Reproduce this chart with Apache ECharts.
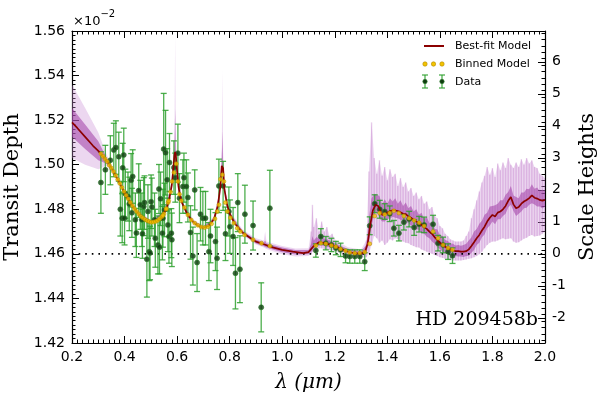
<!DOCTYPE html>
<html>
<head>
<meta charset="utf-8">
<script src="https://cdn.jsdelivr.net/npm/echarts@6/dist/echarts.min.js"></script>
<style>
  html, body { margin: 0; padding: 0; background: #fff; }
  #main { width: 598px; height: 394px; }
</style>
</head>
<body>
<div id="main"></div>
<script>
// --- best-fit model (transit depth, x10^-2) ---
var modelX = [0.20,0.22,0.25,0.28,0.30,0.32,0.34,0.36,0.38,0.40,0.42,0.44,0.46,0.48,0.50,0.52,0.54,0.56,0.57,0.58,0.585,0.59,0.5925,0.595,0.60,0.605,0.61,0.62,0.64,0.66,0.68,0.70,0.72,0.74,0.755,0.765,0.77,0.7725,0.775,0.78,0.79,0.80,0.82,0.85,0.88,0.90,0.93,0.96,1.00,1.04,1.08,1.10,1.12,1.14,1.16,1.18,1.20,1.22,1.24,1.26,1.28,1.30,1.315,1.325,1.335,1.345,1.355,1.365,1.38,1.395,1.41,1.425,1.445,1.46,1.47,1.48,1.49,1.50,1.51,1.52,1.53,1.54,1.55,1.56,1.57,1.58,1.59,1.60,1.61,1.62,1.63,1.64,1.65,1.66,1.67,1.68,1.69,1.70,1.71,1.72,1.73,1.74,1.75,1.76,1.77,1.78,1.79,1.80,1.81,1.82,1.83,1.84,1.85,1.86,1.87,1.88,1.89,1.90,1.91,1.92,1.93,1.94,1.95,1.96,1.97,1.98,1.99,2.00];
var modelY = [1.5190,1.5165,1.5125,1.5085,1.5062,1.5035,1.5005,1.4965,1.4920,1.4875,1.4835,1.4798,1.4770,1.4752,1.4742,1.4745,1.4762,1.4805,1.4845,1.4910,1.4975,1.5045,1.5057,1.5045,1.4970,1.4905,1.4865,1.4825,1.4775,1.4745,1.4725,1.4717,1.4725,1.4755,1.4815,1.4905,1.4995,1.5000,1.4985,1.4890,1.4820,1.4780,1.4735,1.4695,1.4670,1.4655,1.4643,1.4630,1.4618,1.4610,1.4603,1.4608,1.4635,1.4652,1.4648,1.4642,1.4635,1.4625,1.4614,1.4606,1.4602,1.4602,1.4608,1.4645,1.4730,1.4795,1.4820,1.4815,1.4775,1.4780,1.4792,1.4797,1.4790,1.4780,1.4778,1.4768,1.4762,1.4752,1.4745,1.4738,1.4730,1.4720,1.4712,1.4700,1.4690,1.4675,1.4662,1.4650,1.4640,1.4632,1.4625,1.4620,1.4615,1.4612,1.4612,1.4610,1.4610,1.4612,1.4620,1.4635,1.4652,1.4670,1.4685,1.4705,1.4722,1.4745,1.4762,1.4775,1.4768,1.4785,1.4790,1.4800,1.4815,1.4838,1.4855,1.4822,1.4805,1.4810,1.4825,1.4835,1.4842,1.4850,1.4862,1.4852,1.4848,1.4842,1.4838,1.4842];

// --- posterior spread (outer = light, inner = dark) ---
var bandX = [0.20,0.25,0.30,0.33,0.36,0.40,0.45,0.50,0.55,0.575,0.585,0.59,0.5925,0.595,0.60,0.62,0.66,0.70,0.74,0.76,0.77,0.7725,0.775,0.78,0.80,0.85,0.90,0.93,0.935,0.94,0.97,1.00,1.05,1.10,1.11,1.115,1.12,1.13,1.14,1.15,1.16,1.17,1.18,1.19,1.20,1.22,1.25,1.30,1.32,1.33,1.34,1.35,1.36,1.37,1.38,1.39,1.40,1.41,1.42,1.43,1.44,1.45,1.46,1.47,1.48,1.49,1.50,1.51,1.52,1.53,1.54,1.55,1.56,1.57,1.58,1.59,1.60,1.61,1.62,1.63,1.64,1.65,1.66,1.67,1.68,1.69,1.70,1.71,1.72,1.73,1.74,1.75,1.76,1.77,1.78,1.79,1.80,1.81,1.82,1.83,1.84,1.85,1.86,1.87,1.88,1.89,1.90,1.91,1.92,1.93,1.94,1.95,1.96,1.97,1.98,1.99,2.00];
var outerLo = [1.5030,1.5000,1.4980,1.4995,1.4955,1.4866,1.4775,1.4733,1.4776,1.4868,1.4960,1.5025,1.5040,1.5025,1.4955,1.4815,1.4736,1.4708,1.4745,1.4840,1.4975,1.4980,1.4965,1.4875,1.4770,1.4684,1.4642,1.4628,1.4625,1.4622,1.4610,1.4598,1.4588,1.4590,1.4600,1.4610,1.4615,1.4620,1.4625,1.4625,1.4622,1.4620,1.4618,1.4615,1.4612,1.4603,1.4590,1.4582,1.4585,1.4600,1.4640,1.4680,1.4670,1.4650,1.4660,1.4640,1.4650,1.4665,1.4660,1.4670,1.4665,1.4660,1.4655,1.4650,1.4648,1.4640,1.4635,1.4630,1.4628,1.4620,1.4615,1.4610,1.4605,1.4600,1.4595,1.4590,1.4585,1.4582,1.4578,1.4575,1.4572,1.4570,1.4570,1.4570,1.4570,1.4572,1.4575,1.4578,1.4580,1.4585,1.4590,1.4598,1.4610,1.4625,1.4640,1.4650,1.4655,1.4655,1.4660,1.4665,1.4670,1.4665,1.4668,1.4670,1.4655,1.4650,1.4652,1.4660,1.4668,1.4672,1.4680,1.4685,1.4678,1.4680,1.4682,1.4690,1.4700];
var outerHi = [1.5360,1.5255,1.5145,1.5050,1.4975,1.4884,1.4793,1.4751,1.4794,1.4895,1.5000,1.5150,1.5580,1.5120,1.4990,1.4835,1.4754,1.4726,1.4766,1.4875,1.5080,1.5420,1.5060,1.4910,1.4792,1.4708,1.4670,1.4660,1.4700,1.4655,1.4645,1.4635,1.4624,1.4625,1.4700,1.4820,1.4720,1.4760,1.4700,1.4745,1.4700,1.4720,1.4680,1.4690,1.4665,1.4650,1.4630,1.4620,1.4660,1.4970,1.5190,1.5030,1.4960,1.5020,1.4950,1.4990,1.4930,1.4980,1.4945,1.4960,1.4905,1.4940,1.4900,1.4920,1.4880,1.4895,1.4860,1.4875,1.4845,1.4860,1.4825,1.4835,1.4800,1.4810,1.4770,1.4760,1.4725,1.4715,1.4690,1.4680,1.4665,1.4660,1.4655,1.4655,1.4655,1.4660,1.4680,1.4700,1.4760,1.4800,1.4840,1.4880,1.4920,1.4950,1.4990,1.4955,1.4985,1.4945,1.5005,1.4975,1.5010,1.4985,1.5030,1.5000,1.4985,1.5010,1.4990,1.5025,1.5000,1.5030,1.5005,1.5020,1.4990,1.4985,1.4960,1.4950,1.4940];
var innerLo = [1.5125,1.5070,1.5020,1.5005,1.4958,1.4869,1.4778,1.4736,1.4779,1.4872,1.4966,1.5035,1.5048,1.5035,1.4962,1.4819,1.4739,1.4711,1.4749,1.4846,1.4985,1.4990,1.4975,1.4880,1.4774,1.4688,1.4647,1.4634,1.4631,1.4629,1.4617,1.4607,1.4597,1.4598,1.4610,1.4620,1.4625,1.4632,1.4638,1.4638,1.4635,1.4632,1.4630,1.4627,1.4624,1.4614,1.4600,1.4592,
  1.4598,1.4655,1.4725,1.4775,1.4788,1.4760,1.4745,1.4745,1.4758,1.4757,1.4766,1.4762,1.4760,1.4753,1.4750,1.4743,1.4738,1.4727,1.4722,1.4710,1.4708,1.4695,1.4690,1.4677,1.4670,1.4655,1.4645,1.4630,1.4622,1.4610,1.4605,1.4597,1.4594,1.4590,1.4590,1.4588,1.4588,1.4586,1.4590,1.4592,1.4605,1.4617,1.4640,1.4650,1.4675,1.4687,1.4715,1.4727,1.4745,1.4733,1.4755,1.4755,1.4770,1.4780,1.4808,1.4820,1.4792,1.4770,1.4780,1.4790,1.4805,1.4807,1.4820,1.4827,1.4822,1.4813,1.4812,1.4803,1.4812];
var innerHi = [1.5255,1.5180,1.5105,1.5035,1.4972,1.4881,1.4790,1.4748,1.4791,1.4889,1.4988,1.5075,1.5250,1.5070,1.4980,1.4831,1.4751,1.4723,1.4761,1.4865,1.5030,1.5150,1.5010,1.4900,1.4786,1.4702,1.4663,1.4652,1.4660,1.4648,1.4637,1.4628,1.4617,1.4617,1.4645,1.4680,1.4660,1.4675,1.4672,1.4680,1.4668,1.4665,1.4660,1.4655,1.4650,1.4638,1.4622,1.4612,
  1.4640,1.4760,1.4850,1.4870,1.4865,1.4860,1.4820,1.4845,1.4825,1.4850,1.4835,1.4850,1.4825,1.4840,1.4815,1.4830,1.4805,1.4815,1.4790,1.4800,1.4775,1.4785,1.4758,1.4765,1.4738,1.4742,1.4712,1.4710,1.4685,1.4680,1.4662,1.4658,1.4648,1.4645,1.4638,1.4640,1.4636,1.4640,1.4645,1.4660,1.4675,1.4700,1.4712,1.4735,1.4748,1.4775,1.4785,1.4812,1.4815,1.4818,1.4825,1.4840,1.4840,1.4865,1.4878,1.4905,1.4862,1.4855,1.4850,1.4875,1.4875,1.4892,1.4890,1.4912,1.4892,1.4898,1.4882,1.4888,1.4882];

// --- binned model ---
var binX = [0.310,0.318,0.326,0.334,0.342,0.350,0.358,0.366,0.374,0.382,0.390,0.398,0.406,0.414,0.422,0.430,0.438,0.446,0.454,0.462,0.470,0.478,0.486,0.494,0.502,0.510,0.518,0.526,0.534,0.542,0.550,0.558,0.566,
  0.546,0.559,0.568,0.575,0.581,0.588,0.597,0.603,0.609,0.616,0.628,0.641,0.654,0.667,0.679,0.692,0.705,0.718,0.731,0.744,0.753,0.759,0.765,0.772,0.778,0.784,0.791,0.803,0.816,0.829,0.841,0.857,0.889,0.921,0.953,
  1.128,1.147,1.166,1.187,1.204,1.222,1.241,1.257,1.276,1.295,1.314,1.333,1.352,1.371,1.390,1.409,1.425,1.444,1.463,1.483,1.502,1.521,1.540,1.574,1.593,1.612,1.631,1.648];
var binY = [1.5049,1.5038,1.5026,1.5014,1.4998,1.4985,1.4969,1.4952,1.4934,1.4916,1.4898,1.4880,1.4863,1.4847,1.4831,1.4816,1.4802,1.4790,1.4779,1.4768,1.4761,1.4754,1.4749,1.4745,1.4742,1.4743,1.4745,1.4750,1.4757,1.4767,1.4780,1.4800,1.4830,
  1.4772,1.4803,1.4838,1.4878,1.4925,1.4965,1.5004,1.4925,1.4868,1.4838,1.4808,1.4775,1.4752,1.4738,1.4728,1.4720,1.4718,1.4722,1.4735,1.4757,1.4790,1.4820,1.4935,1.4955,1.4925,1.4830,1.4790,1.4762,1.4738,1.4715,1.4700,1.4685,1.4663,1.4648,1.4635,
  1.4637,1.4648,1.4645,1.4638,1.4632,1.4622,1.4614,1.4606,1.4603,1.4604,1.4608,1.4645,1.4770,1.4783,1.4777,1.4783,1.4793,1.4783,1.4770,1.4760,1.4750,1.4740,1.4725,1.4700,1.4670,1.4640,1.4626,1.4618];

// --- observed data with 1-sigma errors ---
var dataX = [0.310,0.327,0.346,0.359,0.367,0.378,0.384,0.391,0.393,0.397,0.400,0.403,0.413,0.418,0.425,0.428,0.431,0.441,0.445,0.454,0.460,0.466,0.468,0.473,0.476,0.485,0.489,0.494,0.497,0.501,0.504,0.514,0.517,0.527,0.531,0.533,0.537,0.544,0.546,0.549,0.552,0.556,0.562,0.565,0.569,0.571,0.578,0.580,
  0.588,0.593,0.603,0.609,0.622,0.626,0.635,0.641,0.651,0.660,0.667,0.676,0.689,0.698,0.708,0.721,0.727,0.746,0.752,0.759,0.775,0.784,0.797,0.801,0.813,0.822,0.831,0.839,0.858,0.889,0.920,0.953,
  1.128,1.147,1.166,1.187,1.204,1.222,1.241,1.257,1.276,1.295,1.314,1.333,1.352,1.371,1.390,1.409,1.425,1.444,1.463,1.483,1.502,1.521,1.540,1.574,1.593,1.612,1.631,1.648];
var dataY = [1.4920,1.4977,1.5020,1.5066,1.5077,1.5036,1.4800,1.4760,1.4986,1.5044,1.4760,1.4870,1.4857,1.4824,1.4930,1.4784,1.4947,1.4753,1.4694,1.4884,1.4820,1.4753,1.4690,1.4812,1.4830,1.4576,1.4790,1.4610,1.4604,1.4834,1.4810,1.4753,1.4670,1.4640,1.4891,1.4630,1.4847,1.4693,1.4760,1.5070,1.4797,1.5054,1.4932,1.4730,1.4678,1.5010,1.4693,1.4663,
  1.4987,1.4942,1.5052,1.4850,1.4902,1.4942,1.4902,1.4853,1.4696,1.4590,1.4887,1.4561,1.4778,1.4760,1.4760,1.4610,1.4680,1.4655,1.4580,1.4905,1.4905,1.4690,1.4790,1.4722,1.4678,1.4513,1.4830,1.4531,1.4778,1.4727,1.4360,1.4805,
  1.4615,1.4678,1.4648,1.4640,1.4626,1.4618,1.4590,1.4588,1.4588,1.4588,1.4565,1.4726,1.4825,1.4800,1.4790,1.4780,1.4715,1.4693,1.4742,1.4756,1.4718,1.4733,1.4730,1.4733,1.4648,1.4640,1.4610,1.4592];
var dataErr = [0.0138,0.0110,0.0110,0.0120,0.0120,0.0110,0.0120,0.0110,0.0110,0.0120,0.0120,0.0110,0.0110,0.0120,0.0120,0.0110,0.0120,0.0120,0.0110,0.0120,0.0110,0.0120,0.0110,0.0130,0.0120,0.0170,0.0120,0.0130,0.0120,0.0120,0.0130,0.0120,0.0130,0.0130,0.0110,0.0120,0.0120,0.0120,0.0130,0.0250,0.0120,0.0190,0.0140,0.0120,0.0120,0.0130,0.0110,0.0120,
  0.0120,0.0110,0.0130,0.0110,0.0120,0.0110,0.0120,0.0110,0.0120,0.0130,0.0090,0.0130,0.0120,0.0120,0.0120,0.0130,0.0120,0.0130,0.0140,0.0120,0.0110,0.0120,0.0110,0.0120,0.0130,0.0160,0.0130,0.0150,0.0130,0.0110,0.0110,0.0170,
  0.0030,0.0035,0.0030,0.0030,0.0030,0.0030,0.0030,0.0030,0.0030,0.0030,0.0040,0.0040,0.0040,0.0040,0.0035,0.0035,0.0035,0.0035,0.0035,0.0035,0.0035,0.0035,0.0035,0.0040,0.0035,0.0035,0.0035,0.0035];

// scale height axis labels
var shTicks = [-2, -1, 0, 1, 2, 3, 4, 5, 6];

var myChart = echarts.init(document.getElementById('main'));

function zip2(a, b) {
	var out = [];
	for (var i = 0; i < a.length; i++) out.push([a[i], b[i]]);
	return out;
}

function bandRender(lo, hi, color) {
	return function (params, api) {
		var pts = [];
		for (var i = 0; i < bandX.length; i++) pts.push(api.coord([bandX[i], hi[i]]));
		for (var j = bandX.length - 1; j >= 0; j--) pts.push(api.coord([bandX[j], lo[j]]));
		return { type: 'polygon', shape: { points: pts }, style: { fill: color } };
	};
}

// streaky texture over the noisy parts of the posterior
function streakRender(params, api) {
	var kids = [];
	for (var i = 0; i < bandX.length; i++) {
		if (bandX[i] < 1.1 || outerHi[i] - outerLo[i] < 0.006) continue;
		var t = api.coord([bandX[i], outerHi[i]]), b = api.coord([bandX[i], outerLo[i]]);
		kids.push({ type: 'line', shape: { x1: t[0], y1: t[1], x2: b[0], y2: b[1] }, style: { stroke: 'rgba(175,85,185,0.28)', lineWidth: 1.4 } });
	}
	return { type: 'group', children: kids };
}

function errRender(params, api) {
	var x = api.value(0), y = api.value(1), e = api.value(2);
	var t = api.coord([x, y + e]), b = api.coord([x, y - e]);
	var st = { stroke: 'rgba(46,160,46,0.85)', lineWidth: 1.3 };
	return {
		type: 'group',
		children: [
			{ type: 'line', shape: { x1: t[0], y1: t[1], x2: b[0], y2: b[1] }, style: st },
			{ type: 'line', shape: { x1: t[0] - 3, y1: t[1], x2: t[0] + 3, y2: t[1] }, style: st },
			{ type: 'line', shape: { x1: b[0] - 3, y1: b[1], x2: b[0] + 3, y2: b[1] }, style: st }
		]
	};
}

var errData = [];
for (var i = 0; i < dataX.length; i++) errData.push([dataX[i], dataY[i], dataErr[i]]);

// minor ticks of the scale height axis, every 0.2
var shMinor = [];
for (var k = -27; k <= 69; k += 2) {
	if (k % 10 !== 0) shMinor.push(k / 10);
}

var SH_MIN = -2.786, SH_MAX = 6.964;
var tickFont = { fontFamily: 'DejaVu Sans', fontSize: 14, color: '#000' };
var blackLine = { show: true, onZero: false, lineStyle: { color: '#000', width: 1.2 } };
var errColor = 'rgba(46,160,46,0.85)';

var option = {
	animation: false,
	backgroundColor: '#fff',
	grid: { left: 72, right: 53, top: 31, bottom: 51, outerBoundsMode: 'none' },
	xAxis: [{
		type: 'value', position: 'bottom', min: 0.2, max: 2.0, interval: 0.2,
		axisLine: blackLine,
		axisTick: { inside: true, length: 7, lineStyle: { color: '#000' } },
		minorTick: { show: true, splitNumber: 10, length: 3.5, lineStyle: { color: '#000' } },
		splitLine: { show: false },
		axisLabel: Object.assign({ margin: 7, formatter: function (v) { return v.toFixed(1); } }, tickFont),
		name: 'λ (μm)', nameLocation: 'middle', nameGap: 30,
		nameTextStyle: { fontFamily: 'DejaVu Serif', fontStyle: 'italic', fontSize: 20, color: '#000' }
	}, {
		type: 'value', position: 'top', min: 0.2, max: 2.0, interval: 0.2,
		axisLine: blackLine,
		axisTick: { inside: true, length: 7, lineStyle: { color: '#000' } },
		minorTick: { show: true, splitNumber: 10, length: 3.5, lineStyle: { color: '#000' } },
		splitLine: { show: false }, axisLabel: { show: false }
	}],
	yAxis: [{
		type: 'value', position: 'left', min: 1.42, max: 1.56, interval: 0.02,
		axisLine: blackLine,
		axisTick: { inside: true, length: 7, lineStyle: { color: '#000' } },
		minorTick: { show: true, splitNumber: 10, length: 3.5, lineStyle: { color: '#000' } },
		splitLine: { show: false },
		axisLabel: Object.assign({ margin: 7, formatter: function (v) { return v.toFixed(2); } }, tickFont),
		name: 'Transit Depth', nameLocation: 'middle', nameGap: 44, nameRotate: 90,
		nameTextStyle: { fontFamily: 'DejaVu Serif', fontSize: 21, color: '#000' }
	}, {
		type: 'value', position: 'right', min: SH_MIN, max: SH_MAX,
		axisLine: blackLine,
		axisTick: { inside: true, length: 7, customValues: shTicks, lineStyle: { color: '#000' } },
		splitLine: { show: false },
		axisLabel: Object.assign({ margin: 7, customValues: shTicks, formatter: function (v) { return String(v); } }, tickFont),
		name: 'Scale Heights', nameLocation: 'middle', nameGap: 26, nameRotate: 90,
		nameTextStyle: { fontFamily: 'DejaVu Serif', fontSize: 21, color: '#000' }
	}, {
		type: 'value', position: 'right', min: SH_MIN, max: SH_MAX,
		axisLine: { show: false, onZero: false },
		axisTick: { inside: true, length: 3.5, customValues: shMinor, lineStyle: { color: '#000' } },
		splitLine: { show: false }, axisLabel: { show: false }
	}],
	graphic: [
		{ type: 'text', left: 73, top: 9, style: { text: '{a|×10}{b|−2}', rich: { a: { fontFamily: 'DejaVu Sans', fontSize: 13, fill: '#000', padding: [6, 0, 0, 0] }, b: { fontFamily: 'DejaVu Sans', fontSize: 10, fill: '#000', verticalAlign: 'top' } } } },
		{ type: 'text', right: 60, top: 311, style: { text: 'HD 209458b', fontFamily: 'DejaVu Serif', fontSize: 19, fill: '#000' } },
		// legend
		{ type: 'line', shape: { x1: 424, y1: 46, x2: 444, y2: 46 }, style: { stroke: '#8b0000', lineWidth: 2 } },
		{ type: 'text', x: 455, y: 46, style: { text: 'Best-fit Model', fontFamily: 'DejaVu Sans', fontSize: 11, fill: '#000', verticalAlign: 'middle' } },
		{ type: 'circle', shape: { cx: 425, cy: 64, r: 2.2 }, style: { fill: '#f3c300', stroke: '#b08800', lineWidth: 0.6 } },
		{ type: 'circle', shape: { cx: 433.5, cy: 64, r: 2.2 }, style: { fill: '#f3c300', stroke: '#b08800', lineWidth: 0.6 } },
		{ type: 'circle', shape: { cx: 442, cy: 64, r: 2.2 }, style: { fill: '#f3c300', stroke: '#b08800', lineWidth: 0.6 } },
		{ type: 'text', x: 455, y: 64, style: { text: 'Binned Model', fontFamily: 'DejaVu Sans', fontSize: 11, fill: '#000', verticalAlign: 'middle' } },
		{ type: 'line', shape: { x1: 425, y1: 75, x2: 425, y2: 88 }, style: { stroke: errColor, lineWidth: 1.3 } },
		{ type: 'line', shape: { x1: 422, y1: 75, x2: 428, y2: 75 }, style: { stroke: errColor, lineWidth: 1.3 } },
		{ type: 'line', shape: { x1: 422, y1: 88, x2: 428, y2: 88 }, style: { stroke: errColor, lineWidth: 1.3 } },
		{ type: 'circle', shape: { cx: 425, cy: 81.5, r: 2.2 }, style: { fill: '#0f3b0f', stroke: '#2a7a2a', lineWidth: 0.6 } },
		{ type: 'line', shape: { x1: 442, y1: 75, x2: 442, y2: 88 }, style: { stroke: errColor, lineWidth: 1.3 } },
		{ type: 'line', shape: { x1: 439, y1: 75, x2: 445, y2: 75 }, style: { stroke: errColor, lineWidth: 1.3 } },
		{ type: 'line', shape: { x1: 439, y1: 88, x2: 445, y2: 88 }, style: { stroke: errColor, lineWidth: 1.3 } },
		{ type: 'circle', shape: { cx: 442, cy: 81.5, r: 2.2 }, style: { fill: '#0f3b0f', stroke: '#2a7a2a', lineWidth: 0.6 } },
		{ type: 'text', x: 455, y: 82, style: { text: 'Data', fontFamily: 'DejaVu Sans', fontSize: 11, fill: '#000', verticalAlign: 'middle' } }
	],
	series: [{
		name: 'band2', type: 'custom', clip: true, z: 1,
		data: [[0.2, 1.5]], renderItem: bandRender(outerLo, outerHi, 'rgba(200,140,212,0.35)')
	}, {
		name: 'streaks', type: 'custom', clip: true, z: 1,
		data: [[1.5, 1.48]], renderItem: streakRender
	}, {
		name: 'band1', type: 'custom', clip: true, z: 2,
		data: [[0.2, 1.5]], renderItem: bandRender(innerLo, innerHi, 'rgba(160,60,165,0.55)')
	}, {
		name: 'zero', type: 'line', z: 3, showSymbol: false, silent: true,
		data: [[0.2, 1.46], [2.0, 1.46]],
		lineStyle: { color: '#000', width: 1.6, type: [1.6, 5] }
	}, {
		name: 'Data err', type: 'custom', z: 4, data: errData, renderItem: errRender
	}, {
		name: 'Data', type: 'scatter', z: 5, data: zip2(dataX, dataY), symbolSize: 5,
		itemStyle: { color: '#0f3b0f', borderColor: '#2a7a2a', borderWidth: 0.8 }
	}, {
		name: 'Best-fit Model', type: 'line', z: 6, data: zip2(modelX, modelY), showSymbol: false,
		lineStyle: { color: '#8b0000', width: 1.7 }
	}, {
		name: 'Binned Model', type: 'scatter', z: 7, data: zip2(binX, binY), symbol: 'circle', symbolSize: 4,
		itemStyle: { color: '#f3c300', borderColor: '#b08800', borderWidth: 0.6 }
	}]
};

myChart.setOption(option);
window.onresize = myChart.resize;
</script>
</body>
</html>
